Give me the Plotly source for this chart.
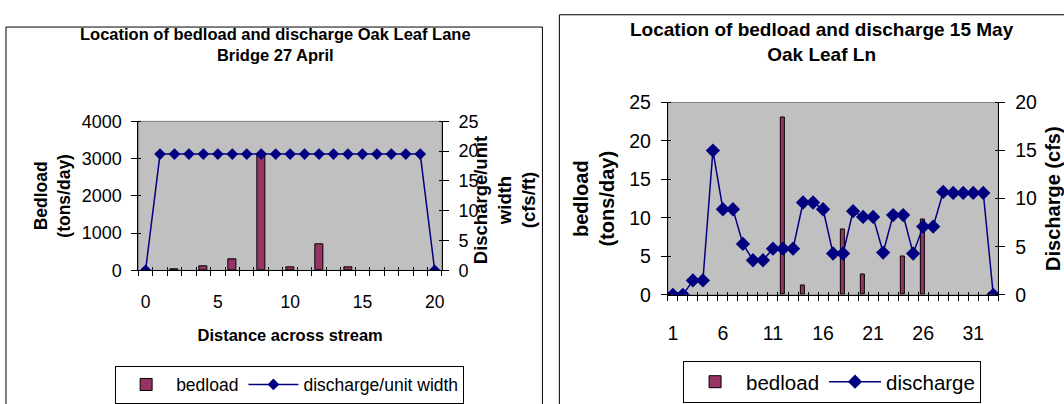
import plotly.graph_objects as go

W, H = 1064, 404
FONT = "Liberation Sans, Arial, sans-serif"

# ---------------- Chart 1: 27 April ----------------
distance = [0, 1, 2, 3, 4, 5, 6, 7, 8, 9, 10, 11, 12, 13, 14, 15, 16, 17, 18, 19, 20]
bedload_apr = [None, None, 40, None, 110, None, 300, None, 3100, None, 75,
               None, 700, None, 75, None, None, None, None, None, None]
discharge_apr = [0, 19.5, 19.5, 19.5, 19.5, 19.5, 19.5, 19.5, 19.5, 19.5, 19.5,
                 19.5, 19.5, 19.5, 19.5, 19.5, 19.5, 19.5, 19.5, 19.5, 0]
x1_ticks = [0, 5, 10, 15, 20]

# ---------------- Chart 2: 15 May ----------------
station = [1, 2, 3, 4, 5, 6, 7, 8, 9, 10, 11, 12, 13, 14, 15, 16, 17, 18, 19, 20,
           21, 22, 23, 24, 25, 26, 27, 28, 29, 30, 31, 32, 33]
bedload_may = [None, None, None, None, None, None, None, None, None, None, None, 23,
               None, 1.2, None, None, None, 8.5, None, 2.7, None, None, None, 5.0,
               None, 9.8, None, None, None, None, None, None, None]
discharge_may = [0, 0, 1.5, 1.5, 15, 8.9, 8.9, 5.3, 3.6, 3.6, 4.8, 4.8, 4.8, 9.6, 9.6,
                 8.9, 4.3, 4.3, 8.7, 8.1, 8.1, 4.4, 8.3, 8.3, 4.3, 7.1, 7.1, 10.7,
                 10.6, 10.6, 10.6, 10.6, 0]
x2_ticks = [1, 6, 11, 16, 21, 26, 31]

BAR = "#993366"
LINE = "#000080"
PLOT_BG = "#C0C0C0"

fig = go.Figure()

fig.add_trace(go.Bar(x=distance, y=bedload_apr, name="bedload", width=0.55,
                     marker=dict(color=BAR, line=dict(color="black", width=1)),
                     xaxis="x", yaxis="y", legend="legend"))
fig.add_trace(go.Scatter(x=distance, y=discharge_apr, name="discharge/unit width",
                         mode="lines+markers",
                         line=dict(color=LINE, width=1.5),
                         marker=dict(symbol="diamond", size=9, color=LINE),
                         xaxis="x", yaxis="y2", legend="legend"))

fig.add_trace(go.Bar(x=station, y=bedload_may, name="bedload", width=0.43,
                     marker=dict(color=BAR, line=dict(color="black", width=1)),
                     xaxis="x2", yaxis="y3", legend="legend2"))
fig.add_trace(go.Scatter(x=station, y=discharge_may, name="discharge",
                         mode="lines+markers",
                         line=dict(color=LINE, width=1.5),
                         marker=dict(symbol="diamond", size=11, color=LINE),
                         xaxis="x2", yaxis="y4", legend="legend2"))

# helper traces for inside halves of the crossing category ticks
fig.add_trace(go.Scatter(x=[], y=[], xaxis="x3", yaxis="y", showlegend=False, hoverinfo="skip"))
fig.add_trace(go.Scatter(x=[], y=[], xaxis="x4", yaxis="y3", showlegend=False, hoverinfo="skip"))

def px_x(a, b):
    return [a / W, b / W]

def px_y(top, bottom):
    return [1 - bottom / H, 1 - top / H]

L_X = px_x(139, 444)
L_Y = px_y(117, 275)
R_X = px_x(671, 1003)
R_Y = px_y(97, 301)

def yax(rng, dtick, size, **kw):
    d = dict(range=rng, dtick=dtick, tick0=0, showgrid=False, zeroline=False,
             showline=True, linecolor="black", linewidth=1,
             ticks="outside", ticklen=6, tickcolor="black", tickwidth=1,
             minor=dict(ticks="inside", ticklen=3, tickcolor="black", dtick=dtick, tick0=0, showgrid=False),
             tickfont=dict(size=size, color="black"), fixedrange=True)
    d.update(kw)
    return d

fig.update_layout(
    width=W, height=H,
    margin=dict(l=0, r=0, t=0, b=0),
    paper_bgcolor="white", plot_bgcolor=PLOT_BG,
    font=dict(family=FONT, color="black"),
    showlegend=True,
    bargap=0,
    xaxis=dict(domain=L_X, anchor="y", range=[-0.5, 20.5], tickvals=x1_ticks,
               ticks="", showgrid=False, zeroline=False, showline=True,
               linecolor="black", linewidth=1,
               minor=dict(ticks="outside", ticklen=5, tickcolor="black", tick0=0.5, dtick=1, showgrid=False),
               tickfont=dict(size=17.5), ticklabelstandoff=16,
               title=dict(text="<b>Distance across stream</b>", font=dict(size=16.5), standoff=18)),
    xaxis3=dict(domain=L_X, anchor="y", overlaying="x", range=[-0.5, 20.5],
                tick0=0.5, dtick=1, ticks="inside", ticklen=3, tickcolor="black",
                showticklabels=False, showgrid=False, zeroline=False, showline=False),
    yaxis=yax([0, 4000], 1000, 18, domain=L_Y, anchor="x", ticklabelstandoff=6,
              title=dict(text="<b>Bedload</b><br><b>(tons/day)</b>", font=dict(size=17.5), standoff=6)),
    yaxis2=yax([0, 25], 5, 18, anchor="x", overlaying="y", side="right", ticklabelstandoff=6),
    xaxis2=dict(domain=R_X, anchor="y3", range=[0.5, 33.5], tickvals=x2_ticks,
                ticks="", showgrid=False, zeroline=False, showline=True,
                linecolor="black", linewidth=1,
                minor=dict(ticks="outside", ticklen=5, tickcolor="black", tick0=0.5, dtick=1, showgrid=False),
                tickfont=dict(size=19.5), ticklabelstandoff=21),
    xaxis4=dict(domain=R_X, anchor="y3", overlaying="x2", range=[0.5, 33.5],
                tick0=0.5, dtick=1, ticks="inside", ticklen=3, tickcolor="black",
                showticklabels=False, showgrid=False, zeroline=False, showline=False),
    yaxis3=yax([0, 25], 5, 19.5, domain=R_Y, anchor="x2", ticklabelstandoff=6,
               title=dict(text="<b>bedload</b><br><b>(tons/day)</b>", font=dict(size=20), standoff=9)),
    yaxis4=yax([0, 20], 5, 19.5, anchor="x2", overlaying="y3", side="right", ticklabelstandoff=6,
               title=dict(text="<b>Discharge (cfs)</b>", font=dict(size=20), standoff=13)),
    legend=dict(orientation="h", x=291 / W, xanchor="center", y=1 - 376 / H, yanchor="top",
                bordercolor="black", borderwidth=1, bgcolor="white",
                font=dict(size=17.5), itemwidth=50),
    legend2=dict(orientation="h", x=836 / W, xanchor="center", y=1 - 371 / H, yanchor="top",
                 bordercolor="black", borderwidth=1, bgcolor="white",
                 font=dict(size=20.5), itemwidth=52),
)

# chart frames (they run off the bottom/right of the picture) and plot-area borders
fig.add_shape(type="rect", xref="paper", yref="paper", x0=6 / W, x1=545 / W,
              y0=-0.05, y1=1 - 17 / H, line=dict(color="black", width=1), layer="below")
fig.add_shape(type="rect", xref="paper", yref="paper", x0=562 / W, x1=1.05,
              y0=-0.05, y1=1 - 4 / H, line=dict(color="black", width=1), layer="below")
fig.add_shape(type="rect", xref="x domain", yref="y domain", x0=0, x1=1, y0=0, y1=1,
              line=dict(color="#808080", width=1), layer="below")
fig.add_shape(type="rect", xref="x2 domain", yref="y3 domain", x0=0, x1=1, y0=0, y1=1,
              line=dict(color="#808080", width=1), layer="below")

# titles
fig.add_annotation(text="<b>Location of bedload and discharge Oak Leaf Lane</b><br><b>Bridge 27 April</b>",
                   xref="paper", yref="paper", x=277 / W, y=1 - 13 / H, xanchor="center", yanchor="top",
                   showarrow=False, font=dict(size=16.5))
fig.add_annotation(text="<b>Location of bedload and discharge 15 May</b><br><b>Oak Leaf Ln</b>",
                   xref="paper", yref="paper", x=826 / W, y=1 - 6 / H, xanchor="center", yanchor="top",
                   showarrow=False, font=dict(size=19))
# right axis title of chart 1 (overlaps its tick labels as in the original)
fig.add_annotation(text="<b>Discharge/unit</b><br><b>width</b><br><b>(cfs/ft)</b>",
                   xref="paper", yref="paper", x=507 / W, y=1 - 200 / H, xanchor="center", yanchor="middle",
                   textangle=-90, showarrow=False, font=dict(size=18.5))

fig.write_html("out.html")
